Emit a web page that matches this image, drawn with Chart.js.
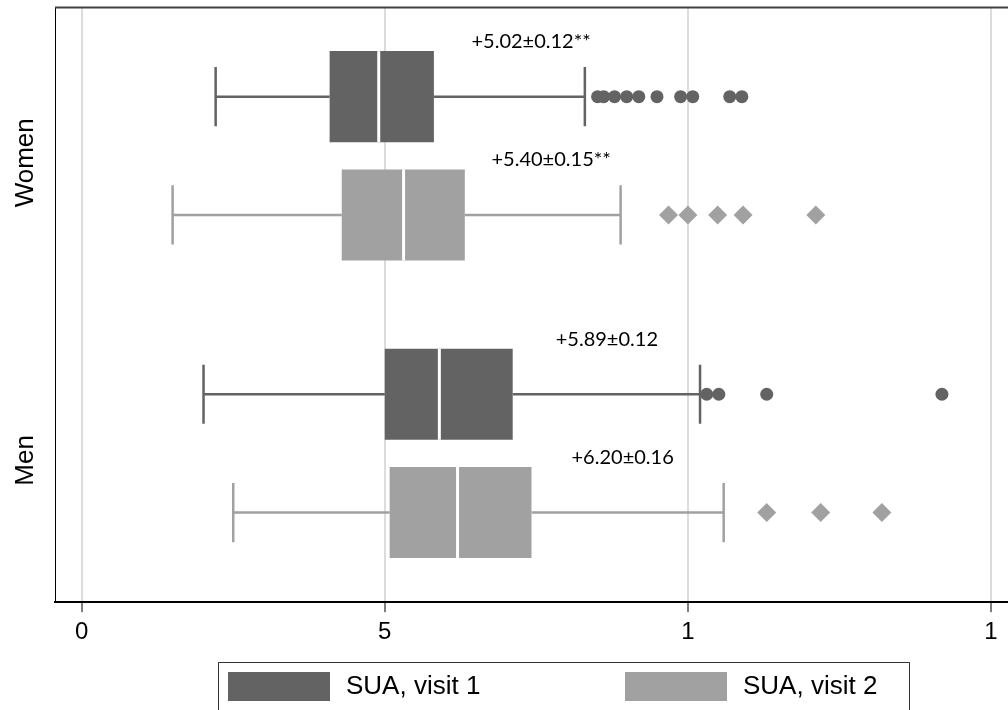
<!DOCTYPE html>
<html>
<head>
<meta charset="utf-8">
<style>
    html, body { margin: 0; padding: 0; background: #fff; }
</style>
</head>
<body>
<canvas id="chart" width="1008" height="710"></canvas>
<script src="https://cdn.jsdelivr.net/npm/chart.js@4/dist/chart.umd.min.js"></script>
<script>
// Data (values in the order Women, Men)

const groups = ["Women", "Men"];
const seriesNames = ["SUA, visit 1", "SUA, visit 2"];

const low1 = [2.21, 2.01];
const q1_1 = [4.09, 5.0];
const median1 = [4.9, 5.9];
const q3_1 = [5.81, 7.11];
const high1 = [8.3, 10.2];
const outliers1 = [
    [8.51, 8.61, 8.79, 8.99, 9.19, 9.49, 9.88, 10.08, 10.69, 10.89],
    [10.31, 10.51, 11.3, 14.19],
];

const low2 = [1.5, 2.5];
const q1_2 = [4.29, 5.08];
const median2 = [5.31, 6.2];
const q3_2 = [6.32, 7.42];
const high2 = [8.89, 10.59];
const outliers2 = [
    [9.68, 10.0, 10.49, 10.91, 12.11],
    [11.3, 12.19, 13.2],
];

const stats1 = ["+5.02\u00b10.12**", "+5.89\u00b10.12"];
const stats2 = ["+5.40\u00b10.15**", "+6.20\u00b10.16"];
// where each stat text starts, in axis units
const statAt1 = [6.43, 7.82];
const statAt2 = [6.76, 8.08];

const tickValues = [0, 5, 10, 15];
const tickLabels = ["0", "5", "1", "1"];

const darkGrey = "#636363";
const lightGrey = "#a1a1a1";

// Whiskers, medians, outliers, stat labels

const boxExtras = {
    id: "boxExtras",
    afterDatasetsDraw(chart) {
        const ctx = chart.ctx;
        const xs = chart.scales.x;

        chart.data.datasets.forEach((ds, d) => {
            const meta = chart.getDatasetMeta(d);
            meta.data.forEach((bar, i) => {
                const y = bar.y;
                const h = bar.height;
                const cap = h * 0.65;
                const xLow = xs.getPixelForValue(ds.low[i]);
                const xQ1 = xs.getPixelForValue(ds.data[i][0]);
                const xQ3 = xs.getPixelForValue(ds.data[i][1]);
                const xHigh = xs.getPixelForValue(ds.high[i]);
                const xMed = xs.getPixelForValue(ds.median[i]);

                ctx.save();
                ctx.strokeStyle = ds.backgroundColor;
                ctx.lineWidth = 2.5;
                ctx.beginPath();
                ctx.moveTo(xLow, y);
                ctx.lineTo(xQ1, y);
                ctx.moveTo(xQ3, y);
                ctx.lineTo(xHigh, y);
                ctx.moveTo(xLow, y - cap / 2);
                ctx.lineTo(xLow, y + cap / 2);
                ctx.moveTo(xHigh, y - cap / 2);
                ctx.lineTo(xHigh, y + cap / 2);
                ctx.stroke();

                ctx.strokeStyle = "#fff";
                ctx.lineWidth = 3;
                ctx.beginPath();
                ctx.moveTo(xMed, y - h / 2);
                ctx.lineTo(xMed, y + h / 2);
                ctx.stroke();

                ctx.fillStyle = ds.backgroundColor;
                ds.outliers[i].forEach((v) => {
                    const px = xs.getPixelForValue(v);
                    ctx.beginPath();
                    if (ds.marker === "circle") {
                        ctx.arc(px, y, 6.5, 0, Math.PI * 2);
                    } else {
                        ctx.moveTo(px, y - 9.5);
                        ctx.lineTo(px + 9.5, y);
                        ctx.lineTo(px, y + 9.5);
                        ctx.lineTo(px - 9.5, y);
                        ctx.closePath();
                    }
                    ctx.fill();
                });

                ctx.fillStyle = "#000";
                ctx.font = "20px Lato";
                ctx.textAlign = "left";
                ctx.textBaseline = "alphabetic";
                ctx.fillText(ds.stats[i], xs.getPixelForValue(ds.statAt[i]), y - h / 2 - 3);
                ctx.restore();
            });
        });
    },
    afterDraw(chart) {
        const ctx = chart.ctx;
        const area = chart.chartArea;
        const ys = chart.scales.y;

        ctx.save();
        // top frame line
        ctx.strokeStyle = "#404040";
        ctx.lineWidth = 2;
        ctx.beginPath();
        ctx.moveTo(area.left, area.top + 0.5);
        ctx.lineTo(area.right, area.top + 0.5);
        ctx.stroke();

        // rotated group labels
        ctx.fillStyle = "#000";
        ctx.font = "26px 'Liberation Sans'";
        ctx.textAlign = "center";
        ctx.textBaseline = "alphabetic";
        groups.forEach((g, i) => {
            ctx.save();
            ctx.translate(area.left - 22.5, ys.getPixelForValue(i) + 7);
            ctx.rotate(-Math.PI / 2);
            ctx.fillText(g, 0, 0);
            ctx.restore();
        });

        // legend
        ctx.strokeStyle = "#333";
        ctx.lineWidth = 1;
        ctx.strokeRect(218.5, 662.5, 691, 70);
        const swatchX = [228, 625];
        ctx.textAlign = "left";
        ctx.textBaseline = "middle";
        chart.data.datasets.forEach((ds, d) => {
            ctx.fillStyle = ds.backgroundColor;
            ctx.fillRect(swatchX[d], 672, 102, 29);
            ctx.fillStyle = "#000";
            ctx.fillText(ds.label, swatchX[d] + 118, 687);
        });
        ctx.restore();
    },
};

const chart = document.querySelector("#chart").getContext("2d");

new Chart(chart, {
    type: "bar",
    data: {
        labels: groups,
        datasets: [
            {
                label: seriesNames[0],
                data: groups.map((g, i) => [q1_1[i], q3_1[i]]),
                low: low1,
                high: high1,
                median: median1,
                outliers: outliers1,
                stats: stats1,
                statAt: statAt1,
                marker: "circle",
                backgroundColor: darkGrey,
                borderWidth: 0,
            },
            {
                label: seriesNames[1],
                data: groups.map((g, i) => [q1_2[i], q3_2[i]]),
                low: low2,
                high: high2,
                median: median2,
                outliers: outliers2,
                stats: stats2,
                statAt: statAt2,
                marker: "diamond",
                backgroundColor: lightGrey,
                borderWidth: 0,
            },
        ],
    },
    options: {
        indexAxis: "y",
        responsive: false,
        animation: false,
        categoryPercentage: 0.795,
        barPercentage: 0.77,
        layout: {
            padding: { top: 7, left: 55, right: 0, bottom: 57 },
        },
        plugins: {
            legend: { display: false },
            tooltip: { enabled: false },
        },
        scales: {
            x: {
                type: "linear",
                min: -0.44,
                max: 15.28,
                afterBuildTicks: (scale) => {
                    scale.ticks = tickValues.map((v) => ({ value: v }));
                },
                ticks: {
                    callback: (v, i) => tickLabels[i],
                    font: { family: "Liberation Sans", size: 24 },
                    color: "#000",
                    padding: 6,
                    maxRotation: 0,
                    autoSkip: false,
                },
                grid: {
                    color: "#dcdcdc",
                    lineWidth: 2,
                    tickColor: "#000",
                    tickWidth: 1,
                    tickLength: 10,
                },
                border: { color: "#000", width: 2 },
            },
            y: {
                type: "category",
                ticks: { display: false },
                grid: { display: false, drawTicks: false },
                border: { color: "#000", width: 1 },
            },
        },
    },
    plugins: [boxExtras],
});
</script>
</body>
</html>
